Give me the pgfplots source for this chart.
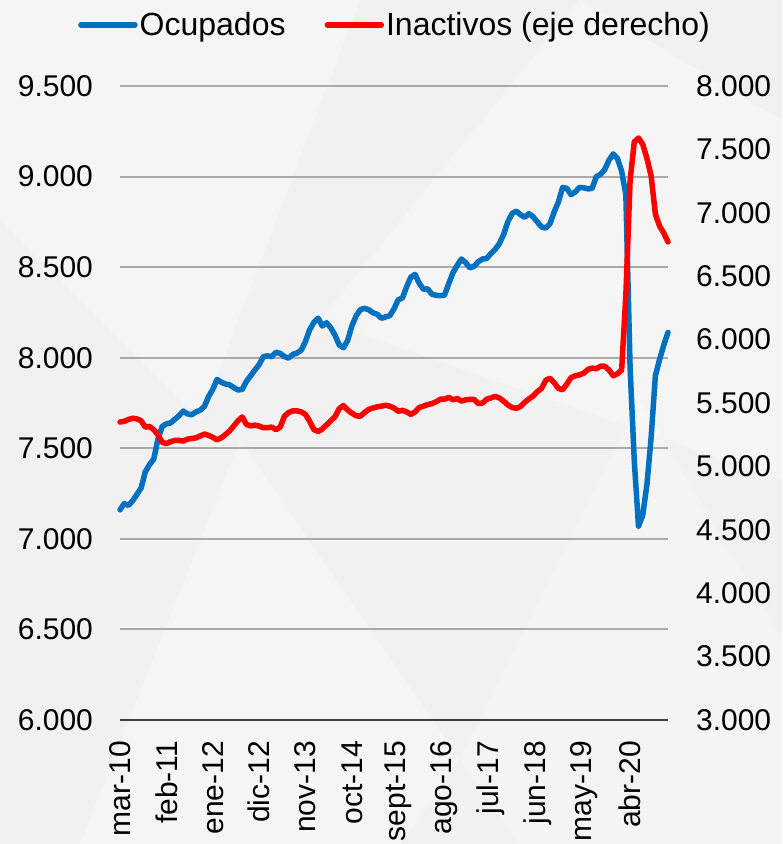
\documentclass[border=0pt]{standalone}
\usepackage{pgfplots}
\pgfplotsset{compat=1.18}
\usepackage{pgfplotstable}
\usepackage{fontspec}
\setmainfont{Liberation Sans}
\definecolor{ocup}{RGB}{0,112,192}
\definecolor{inac}{RGB}{255,0,0}
\definecolor{bgc}{RGB}{241,241,241}
\definecolor{gridc}{RGB}{170,170,170}

\pgfplotstableread{
m v
0 7160
1 7195
2 7185
3 7210
4 7245
5 7280
6 7370
7 7410
8 7440
9 7550
10 7620
11 7635
12 7640
13 7660
14 7680
15 7705
16 7690
17 7685
18 7700
19 7710
20 7730
21 7785
22 7825
23 7880
24 7865
25 7855
26 7850
27 7835
28 7822
29 7825
30 7870
31 7900
32 7932
33 7962
34 8006
35 8010
36 8006
37 8030
38 8024
39 8006
40 7998
41 8018
42 8026
43 8042
44 8090
45 8155
46 8195
47 8218
48 8175
49 8193
50 8165
51 8125
52 8070
53 8055
54 8095
55 8175
56 8230
57 8265
58 8273
59 8265
60 8248
61 8240
62 8218
63 8225
64 8232
65 8270
66 8320
67 8330
68 8392
69 8445
70 8460
71 8410
72 8378
73 8380
74 8350
75 8345
76 8342
77 8346
78 8410
79 8470
80 8510
81 8545
82 8525
83 8496
84 8505
85 8530
86 8545
87 8548
88 8575
89 8598
90 8630
91 8680
92 8750
93 8795
94 8810
95 8790
96 8775
97 8795
98 8778
99 8750
100 8722
101 8716
102 8740
103 8805
104 8860
105 8940
106 8935
107 8900
108 8915
109 8940
110 8938
111 8932
112 8935
113 9000
114 9012
115 9040
116 9090
117 9125
118 9100
119 9030
120 8900
121 7950
122 7430
123 7070
124 7130
125 7300
126 7560
127 7900
128 7990
129 8070
130 8140
}\ocupados

\pgfplotstableread{
m v
0 5350
1 5355
2 5370
3 5380
4 5375
5 5360
6 5310
7 5315
8 5290
9 5250
10 5190
11 5180
12 5195
13 5205
14 5205
15 5200
16 5215
17 5220
18 5225
19 5240
20 5255
21 5245
22 5230
23 5210
24 5225
25 5250
26 5280
27 5320
28 5360
29 5390
30 5330
31 5320
32 5325
33 5318
34 5305
35 5305
36 5310
37 5290
38 5310
39 5395
40 5425
41 5438
42 5438
43 5430
44 5410
45 5355
46 5290
47 5275
48 5295
49 5328
50 5360
51 5392
52 5455
53 5480
54 5445
55 5420
56 5400
57 5395
58 5425
59 5450
60 5460
61 5470
62 5475
63 5482
64 5475
65 5460
66 5435
67 5442
68 5430
69 5410
70 5430
71 5465
72 5475
73 5488
74 5495
75 5510
76 5530
77 5530
78 5545
79 5525
80 5535
81 5515
82 5525
83 5528
84 5528
85 5495
86 5500
87 5530
88 5540
89 5552
90 5540
91 5515
92 5485
93 5465
94 5458
95 5472
96 5505
97 5532
98 5555
99 5590
100 5615
101 5680
102 5695
103 5660
104 5615
105 5605
106 5650
107 5700
108 5715
109 5722
110 5735
111 5765
112 5775
113 5770
114 5790
115 5790
116 5760
117 5715
118 5730
119 5760
120 6350
121 7250
122 7560
123 7590
124 7540
125 7430
126 7290
127 6990
128 6895
129 6840
130 6770
}\inactivos

\begin{document}
\begin{tikzpicture}
\fill[bgc] (-60pt,-62pt) rectangle (331pt,360pt);
\fill[white, opacity=0.35] (-60pt,360pt) -- (120pt,360pt) -- (40pt,150pt) -- (-60pt,250pt) -- cycle;
\fill[white, opacity=0.3] (100pt,200pt) -- (230pt,360pt) -- (331pt,300pt) -- (331pt,120pt) -- cycle;
\fill[white, opacity=0.35] (-20pt,-62pt) -- (60pt,140pt) -- (170pt,-20pt) -- (140pt,-62pt) -- cycle;
\fill[white, opacity=0.25] (170pt,-20pt) -- (260pt,160pt) -- (331pt,40pt) -- (331pt,-62pt) -- (200pt,-62pt) -- cycle;
\begin{axis}[
  scale only axis, width=274pt, height=317pt,
  xmin=0, xmax=130, ymin=6000, ymax=9500,
  clip=false,
  xtick={0,11,...,121},
  xticklabels={mar-10,feb-11,ene-12,dic-12,nov-13,oct-14,sept-15,ago-16,jul-17,jun-18,may-19,abr-20},
  ytick={6000,6500,...,9500},
  axis x line*=bottom, axis y line*=left,
  y axis line style={draw=none},
  x axis line style={draw=black!75, line width=1pt, -},
  major tick length=0pt,
  ymajorgrids, grid style={gridc, line width=1pt},
  scaled y ticks=false,
  yticklabel style={/pgf/number format/.cd, 1000 sep={.}, assume math mode=true, /tikz/.cd, font=\fontsize{15}{18}\selectfont, xshift=-10pt},
  xticklabel shift=7pt,
  xticklabel style={rotate=90, anchor=east, font=\fontsize{15}{18}\selectfont},
]
\addplot[ocup, line width=2.75pt, line join=round, line cap=round, no markers] table[x=m, y=v] {\ocupados};
\end{axis}
\begin{axis}[
  scale only axis, width=274pt, height=317pt,
  xmin=0, xmax=130, ymin=3000, ymax=8000,
  clip=false,
  ytick={3000,3500,...,8000},
  axis y line*=right, axis x line=none,
  y axis line style={draw=none},
  major tick length=0pt,
  scaled y ticks=false,
  yticklabel style={/pgf/number format/.cd, 1000 sep={.}, assume math mode=true, /tikz/.cd, font=\fontsize{15}{18}\selectfont, xshift=10.5pt},
  legend style={at={(0.5,1)}, anchor=center, xshift=0.5pt, yshift=30.5pt, draw=none, fill=none, legend columns=2, font=\fontsize{16}{19}\selectfont, nodes={inner sep=1pt}, /tikz/every even column/.append style={column sep=18.5pt}},
  legend image code/.code={\draw[#1] (0pt,0pt) -- (27pt,0pt);},
]
\addlegendimage{ocup, line width=2.75pt, line cap=round}
\addlegendentry{Ocupados}
\addplot[inac, line width=2.75pt, line join=round, line cap=round, no markers] table[x=m, y=v] {\inactivos};
\addlegendentry{Inactivos (eje derecho)}
\end{axis}
\pgfresetboundingbox
\useasboundingbox (-60pt,-62pt) rectangle (331pt,360pt);
\end{tikzpicture}
\end{document}
